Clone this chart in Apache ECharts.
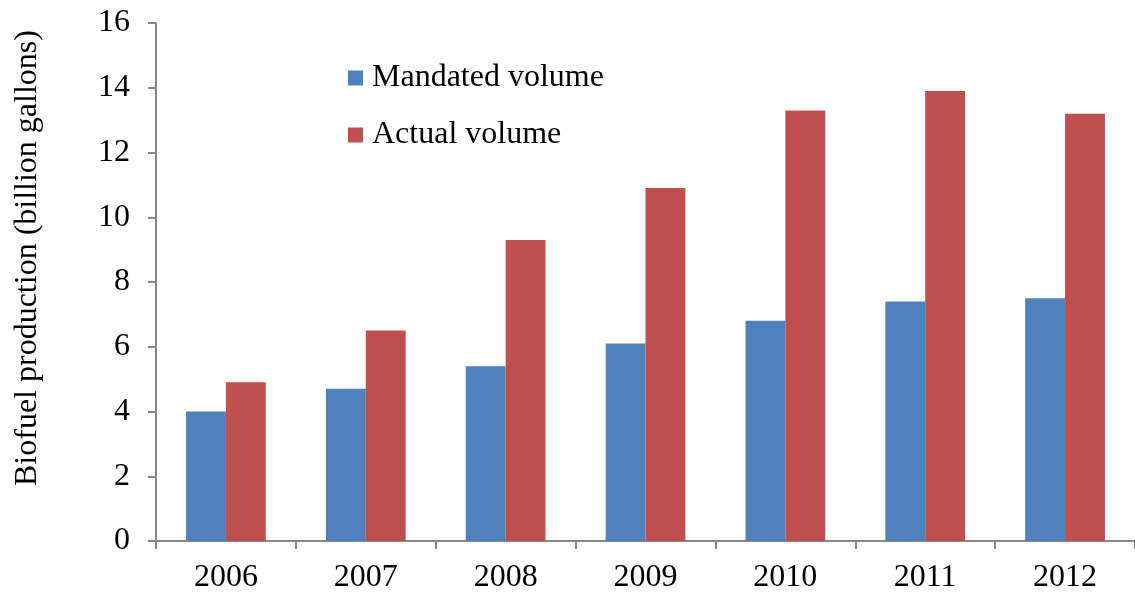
<!DOCTYPE html>
<html>
<head>
<meta charset="utf-8">
<script src="https://cdn.jsdelivr.net/npm/echarts@6/dist/echarts.min.js"></script>
<style>
  html, body { margin: 0; padding: 0; background: #fff; }
  #chart { width: 1135px; height: 592px; }
</style>
</head>
<body>
<div id="chart"></div>
<script>
// Biofuel production by year, billion gallons
const years = ['2006', '2007', '2008', '2009', '2010', '2011', '2012'];
const mandatedVolume = [4.0, 4.7, 5.4, 6.1, 6.8, 7.4, 7.5];
const actualVolume = [4.9, 6.5, 9.3, 10.9, 13.3, 13.9, 13.2];
const seriesNames = ['Mandated volume', 'Actual volume'];

const serif = '"Liberation Serif", "Times New Roman", serif';
const axisGrey = '#878787';

const chart = echarts.init(document.getElementById('chart'), null, { renderer: 'canvas' });
chart.setOption({
  animation: false,
  textStyle: { fontFamily: serif, color: '#000' },
  grid: { left: 156, right: 0, top: 23, bottom: 51, containLabel: false, outerBoundsMode: 'none' },
  legend: {
    orient: 'vertical',
    left: 343,
    top: 57,
    itemWidth: 15,
    itemHeight: 15,
    itemGap: 25,
    icon: 'rect',
    textStyle: { fontFamily: serif, fontSize: 32, lineHeight: 32, color: '#000', padding: [0, 0, 0, 4] },
    data: seriesNames
  },
  xAxis: {
    type: 'category',
    data: years,
    axisLine: { lineStyle: { color: axisGrey, width: 2 } },
    axisTick: { show: true, alignWithLabel: false, length: 8, lineStyle: { color: axisGrey, width: 2 } },
    axisLabel: { fontFamily: serif, fontSize: 32, color: '#000', margin: 21 }
  },
  yAxis: {
    type: 'value',
    min: 0,
    max: 16,
    interval: 2,
    name: 'Biofuel production (billion gallons)',
    nameLocation: 'middle',
    nameGap: 112,
    nameRotate: 90,
    nameTextStyle: { fontFamily: serif, fontSize: 32, color: '#000', padding: [0, 0, 0, 48] },
    axisLine: { show: true, lineStyle: { color: axisGrey, width: 2 } },
    axisTick: { show: true, length: 8, lineStyle: { color: axisGrey, width: 2 } },
    axisLabel: { fontFamily: serif, fontSize: 32, color: '#000', margin: 26 },
    splitLine: { show: false }
  },
  series: [
    {
      name: seriesNames[0],
      type: 'bar',
      data: mandatedVolume,
      barGap: '0%',
      barCategoryGap: '43%',
      itemStyle: { color: '#4F81BD' }
    },
    {
      name: seriesNames[1],
      type: 'bar',
      data: actualVolume,
      barGap: '0%',
      barCategoryGap: '43%',
      itemStyle: { color: '#C0504D' }
    }
  ]
});
</script>
</body>
</html>
